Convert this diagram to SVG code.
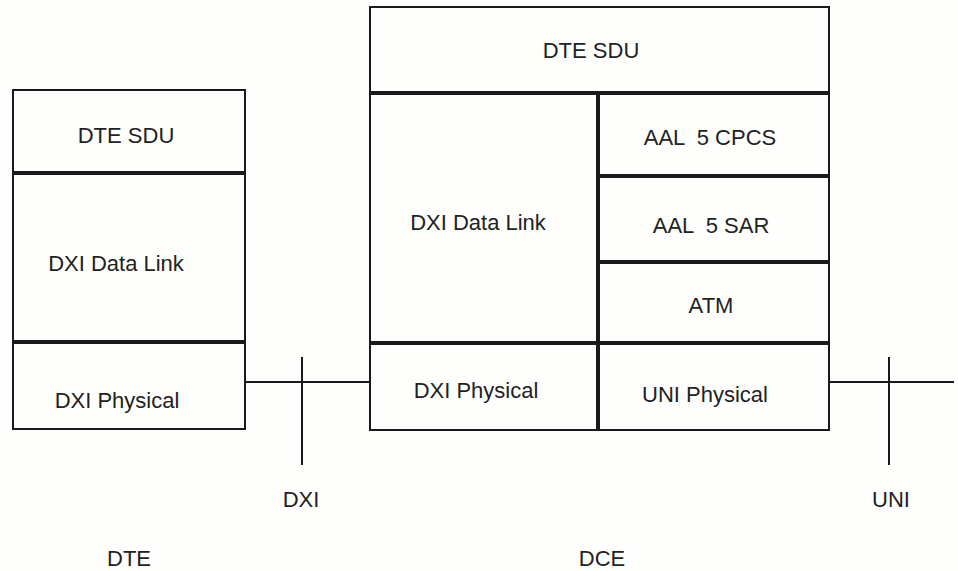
<svg xmlns="http://www.w3.org/2000/svg" width="958" height="571" viewBox="0 0 958 571">
<style>
.bg{fill:#fefefc}
.box{fill:none;stroke:#1a1a1a;stroke-width:2}
.thick{stroke:#1a1a1a;stroke-width:4;fill:none}
.conn{stroke:#1a1a1a;stroke-width:2;fill:none}
text{font-family:"Liberation Sans",Arial,sans-serif;font-size:22px;fill:#222;text-anchor:middle}
</style>
<rect class="bg" x="0" y="0" width="958" height="571"/>
<g id="dte-stack">
  <rect class="box" x="13" y="90" width="232" height="339"/>
  <g id="dte-sdu-left"><text x="126" y="143">DTE SDU</text></g>
  <line class="thick" x1="13" y1="173" x2="245" y2="173"/>
  <g id="dxi-datalink-left"><text x="116" y="271">DXI Data Link</text></g>
  <line class="thick" x1="13" y1="342" x2="245" y2="342"/>
  <g id="dxi-physical-left"><text x="117" y="408">DXI Physical</text></g>
</g>
<g id="dce-stack">
  <rect class="box" x="370" y="7" width="459" height="423"/>
  <g id="dte-sdu-right"><text x="591" y="58">DTE SDU</text></g>
  <line class="thick" x1="370" y1="93" x2="829" y2="93"/>
  <line class="thick" x1="598" y1="93" x2="598" y2="430"/>
  <g id="dxi-datalink-right"><text x="478" y="230">DXI Data Link</text></g>
  <line class="thick" x1="370" y1="343" x2="829" y2="343"/>
  <g id="dxi-physical-right"><text x="476" y="398">DXI Physical</text></g>
  <g id="aal5-cpcs"><text x="710" y="145" xml:space="preserve">AAL  5 CPCS</text></g>
  <line class="thick" x1="598" y1="176" x2="829" y2="176"/>
  <g id="aal5-sar"><text x="711" y="233" xml:space="preserve">AAL  5 SAR</text></g>
  <line class="thick" x1="598" y1="262" x2="829" y2="262"/>
  <g id="atm"><text x="711" y="313">ATM</text></g>
  <g id="uni-physical"><text x="705" y="402">UNI Physical</text></g>
</g>
<g id="connectors">
  <line class="conn" x1="245" y1="382" x2="370" y2="382"/>
  <line class="conn" x1="302" y1="357" x2="302" y2="465"/>
  <line class="conn" x1="829" y1="382" x2="954" y2="382"/>
  <line class="conn" x1="889" y1="357" x2="889" y2="465"/>
</g>
<g id="label-dxi"><text x="301" y="507">DXI</text></g>
<g id="label-uni"><text x="891" y="507">UNI</text></g>
<g id="label-dte"><text x="129" y="566">DTE</text></g>
<g id="label-dce"><text x="602" y="566">DCE</text></g>
</svg>
